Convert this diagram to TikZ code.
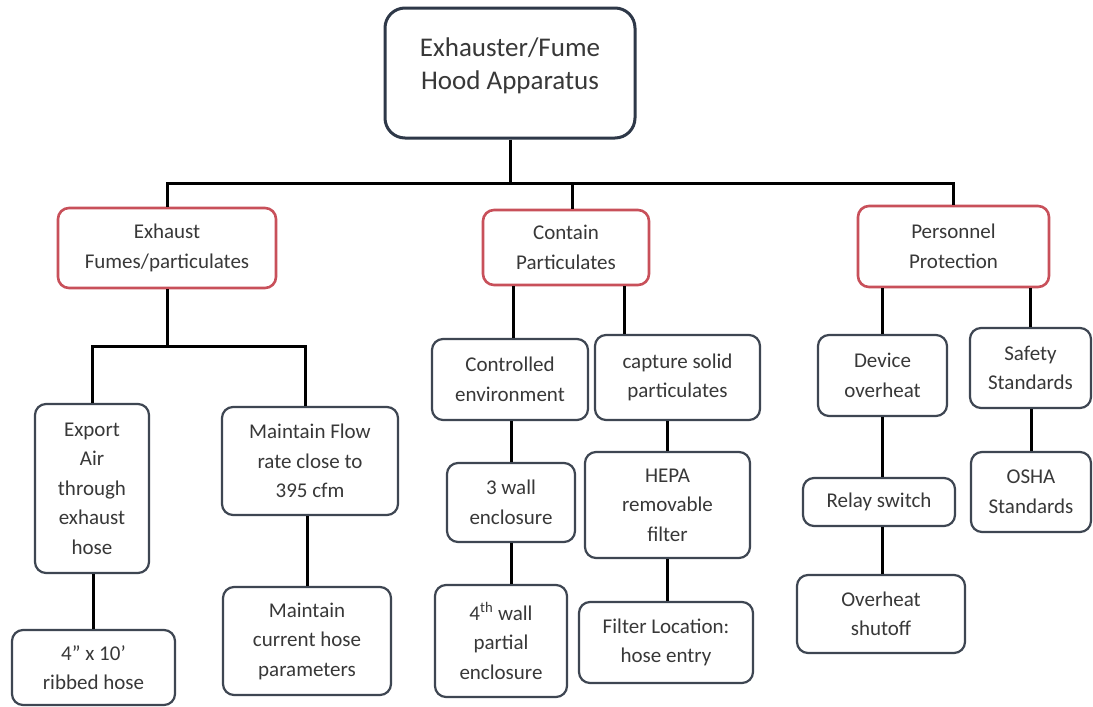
\documentclass[tikz,border=0pt]{standalone}
\usepackage{fontspec}
\setmainfont{Carlito}
\definecolor{txtc}{HTML}{383838}
\definecolor{boxc}{HTML}{3E4652}
\definecolor{redc}{HTML}{C8505A}
\definecolor{topc}{HTML}{2E3848}
\begin{document}
\begin{tikzpicture}[x=1pt,y=-1pt,
  box/.style={draw=boxc, line width=2.2pt, rounded corners=11pt, fill=white,
    align=center, inner sep=0pt, text=txtc,
    font=\fontsize{21}{29.5}\selectfont},
  redbox/.style={box, draw=redc, line width=2.6pt},
  topbox/.style={draw=topc, line width=3pt, rounded corners=20pt, fill=white, inner sep=0pt},
  toptxt/.style={align=center, text=txtc, inner sep=0pt, font=\fontsize{27}{33}\selectfont},
  conn/.style={draw=black, line width=3pt}]
\useasboundingbox (0,0) rectangle (1093,707);
\fill[white] (0,0) rectangle (1093,707);

% top
\node[topbox, minimum width=250pt, minimum height=130pt] (top) at (510,73) {};
\node[toptxt] (toptext) at (510,66) {Exhauster/Fume\\Hood Apparatus};

% level 1
\node[redbox, minimum width=218pt, minimum height=80pt] (ex) at (167,248) {Exhaust\\Fumes/particulates};
\node[redbox, minimum width=166pt, minimum height=75pt] (cp) at (566,247.5) {Contain\\Particulates};
\node[redbox, minimum width=191pt, minimum height=81pt] (pp) at (953.5,246.5) {Personnel\\Protection};

% exhaust branch
\node[box, minimum width=114pt, minimum height=169pt] (ea) at (92,488.5) {Export\\Air\\through\\exhaust\\hose};
\node[box, minimum width=163pt, minimum height=75pt] (hs) at (93.5,667.5) {4” x 10’\\ribbed hose};
\node[box, minimum width=176pt, minimum height=108pt] (mf) at (310,461) {Maintain Flow\\rate close to\\395 cfm};
\node[box, minimum width=168pt, minimum height=108pt] (mc) at (307,641) {Maintain\\current hose\\parameters};

% contain branch
\node[box, minimum width=156pt, minimum height=81pt] (ce) at (510,379.5) {Controlled\\environment};
\node[box, minimum width=165pt, minimum height=85pt] (cs) at (677.5,377.5) {capture solid\\particulates};
\node[box, minimum width=128pt, minimum height=79pt] (w3) at (511,502.5) {3 wall\\enclosure};
\node[box, minimum width=132pt, minimum height=112pt] (w4) at (501,641) {4\textsuperscript{th} wall\\partial\\enclosure};
\node[box, minimum width=165pt, minimum height=106pt] (hp) at (667.5,505) {HEPA\\removable\\filter};
\node[box, minimum width=174pt, minimum height=81pt] (fl) at (666,642.5) {Filter Location:\\hose entry};

% personnel branch
\node[box, minimum width=129pt, minimum height=81pt] (dv) at (882.5,375.5) {Device\\overheat};
\node[box, minimum width=121pt, minimum height=80pt] (sf) at (1030.5,368) {Safety\\Standards};
\node[box, minimum width=120pt, minimum height=80pt] (os) at (1031,492) {OSHA\\Standards};
\node[box, minimum width=152pt, minimum height=48pt] (rl) at (879,502) {Relay switch};
\node[box, minimum width=168pt, minimum height=78pt] (oh) at (881,614) {Overheat\\shutoff};

% connectors
\coordinate (bus) at (0,183);
\coordinate (bus2) at (0,346);
\begin{scope}[on background layer/.style={}]
\draw[conn] (top.south) -- (top.south |- bus);
\draw[conn] (ex.north) -- (ex.north |- bus) -- (pp.north |- bus) -- (pp.north);
\draw[conn] ([xshift=6pt]cp.north |- bus) -- ([xshift=6pt]cp.north);

\draw[conn] (ex.south) -- (ex.south |- bus2);
\draw[conn] (ea.north) -- (ea.north |- bus2) -- ([xshift=-5pt]mf.north |- bus2) -- ([xshift=-5pt]mf.north);
\draw[conn] (ea.south -| hs.north) -- (hs.north);
\draw[conn] (mc.north |- mf.south) -- (mc.north);

\draw[conn] ([xshift=-53pt]cp.south) -- ([xshift=-53pt]cp.south |- ce.north);
\draw[conn] ([xshift=58pt]cp.south) -- ([xshift=58pt]cp.south |- cs.north);
\draw[conn] (w3.north |- ce.south) -- (w3.north);
\draw[conn] (w3.south) -- (w3.south |- w4.north);
\draw[conn] (hp.north |- cs.south) -- (hp.north);
\draw[conn] (hp.south) -- (hp.south |- fl.north);

\draw[conn] (dv.north |- pp.south) -- (dv.north);
\draw[conn] (sf.north |- pp.south) -- (sf.north);
\draw[conn] (dv.south) -- (dv.south |- rl.north);
\draw[conn] (dv.south |- rl.south) -- (dv.south |- oh.north);
\draw[conn] (os.north |- sf.south) -- (os.north);
\end{scope}
\end{tikzpicture}
\end{document}
